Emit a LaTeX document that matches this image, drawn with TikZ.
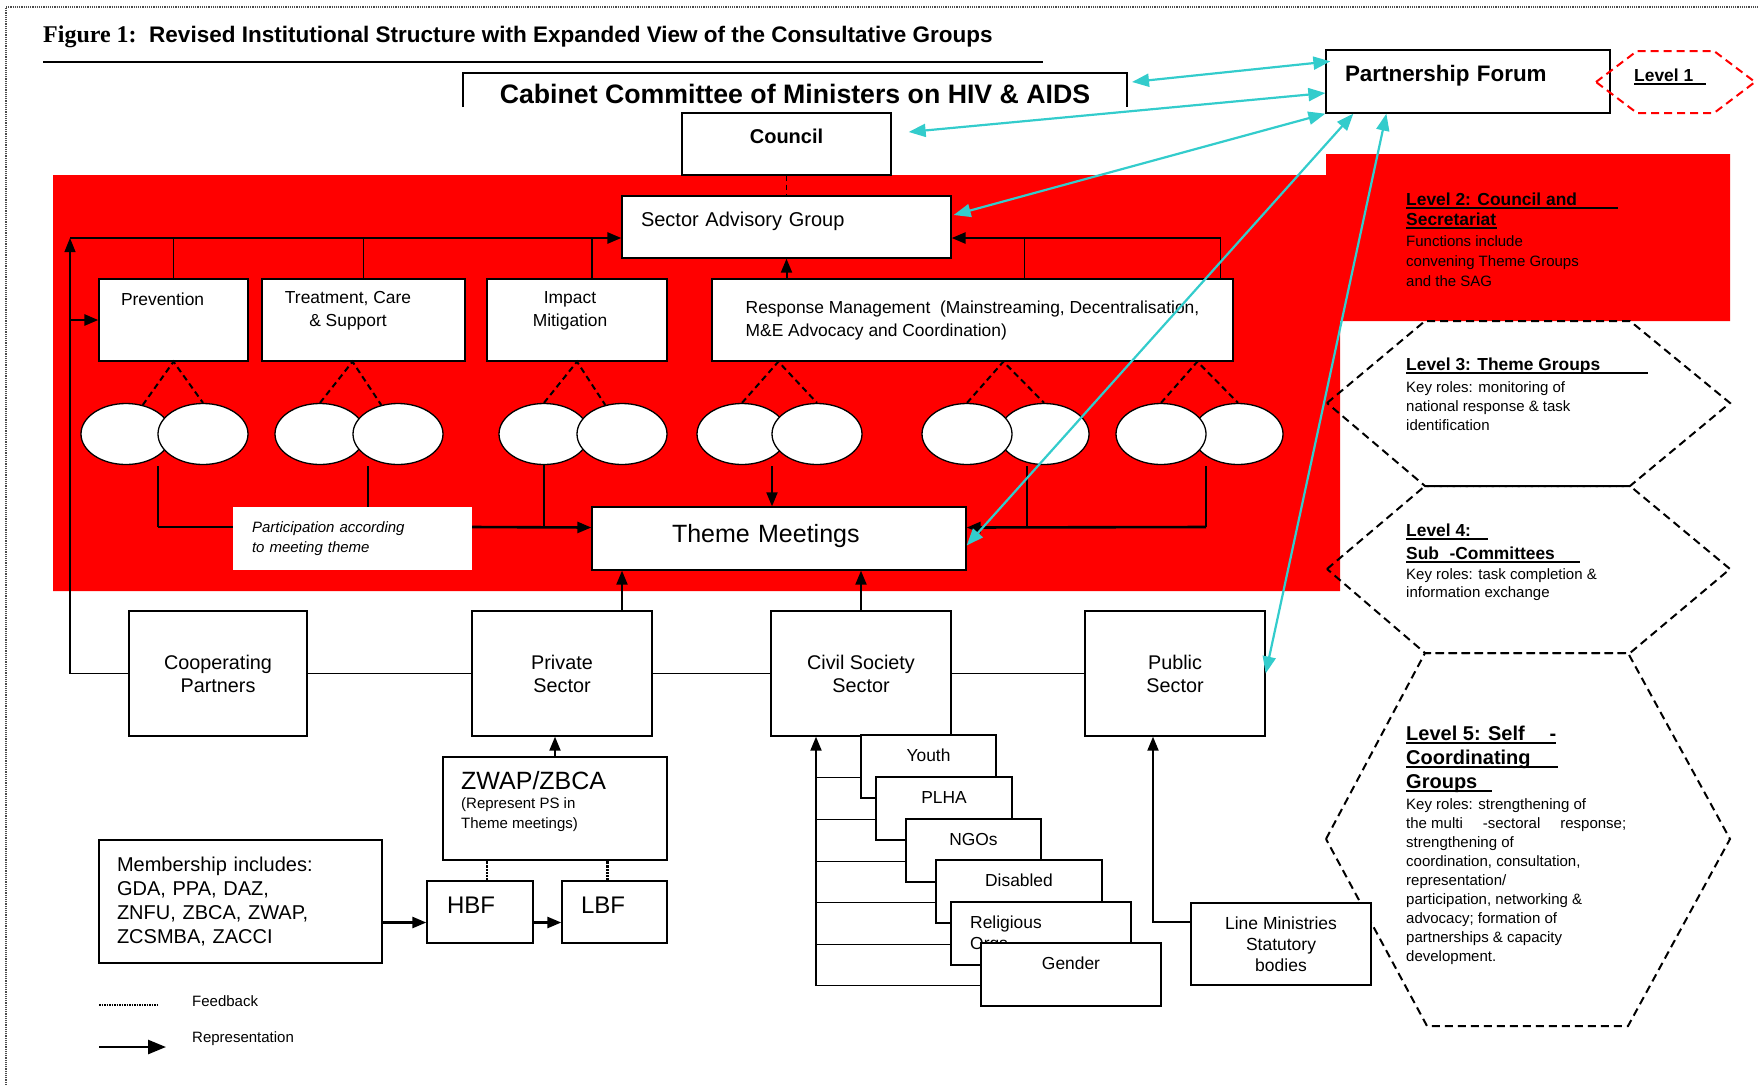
\documentclass[tikz,border=0pt]{standalone}
\usepackage{fontspec}
\setmainfont{Liberation Sans}
\newfontfamily\figserif{Liberation Serif}
\usetikzlibrary{positioning,calc,shapes.geometric,arrows.meta}

\definecolor{bandred}{RGB}{255,0,0}
\definecolor{linkcyan}{RGB}{51,204,204}

\newcommand{\setfs}[2]{\fontsize{#1}{#2}\selectfont}
\newcommand{\levelul}[2]{\makebox[#1][l]{#2}\llap{\rule[-3pt]{#1}{1.6pt}}}

\begin{document}
\begin{tikzpicture}[x=1pt, y=-1pt,
    >={Triangle[length=14pt,width=11pt]},
    box/.style={draw, fill=white, line width=1.3pt, inner sep=0pt},
    subbox/.style={box, minimum height=63pt, text height=13pt, text depth=23pt, font=\setfs{17.4}{21}},
    bubble/.style={ellipse, draw, fill=white, line width=1.3pt, minimum width=90pt, minimum height=61pt, inner sep=0pt},
    link/.style={line width=1.1pt},
    rep/.style={->, line width=2.6pt},
    uparrow/.style={->, line width=2pt},
    feedback/.style={densely dotted, line width=2.2pt},
    subtheme/.style={dash pattern=on 6pt off 4pt, line width=2pt},
    hexa/.style={dash pattern=on 8pt off 5pt, line width=2pt},
    forum/.style={<->, draw=linkcyan, line width=2.2pt, >={Triangle[length=17pt,width=13pt]}},
    leveltext/.style={anchor=north west, align=left, inner sep=0pt}
  ]
  \useasboundingbox (0,0) rectangle (1758,1085);

  % Red band (council and secretariat)
  \fill[bandred] (53,175) -- (1326,175) -- (1326,154) -- (1730,154) -- (1730,321)
    -- (1340,321) -- (1340,591) -- (53,591) -- cycle;

  % Page frame and title
  \draw[densely dotted, line width=1.2pt, black!70] (6,1085) -- (6,7) -- (1758,7);
  \node[anchor=west, inner sep=0pt, font=\setfs{22.5}{26}\bfseries] (title) at (43,37)
    {{\figserif\setfs{24}{26}Figure 1:}\ \ Revised Institutional Structure with Expanded View of the Consultative Groups};
  \draw[line width=2pt] (43,62) -- (1043,62);

  % Cabinet committee
  \draw[line width=1.5pt] (463,107) -- (463,73) -- (1127,73) -- (1127,107);
  \node[inner sep=0pt, font=\setfs{26.7}{30}\bfseries] (ccm) at (795,94)
    {Cabinet Committee of Ministers on HIV \& AIDS};
  \coordinate (ccmright) at (1132,82);

  % Level hexagons
  \draw[hexa] (1327,403) -- (1425,321) -- (1630,321) -- (1730,403) -- (1630,486) -- (1425,486) -- cycle;
  \draw[hexa] (1327,569) -- (1425,486) -- (1630,486) -- (1730,569) -- (1630,653) -- (1425,653) -- cycle;
  \draw[hexa] (1326,839) -- (1425,653) -- (1628,653) -- (1730,839) -- (1628,1026) -- (1427,1026) -- cycle;

  % Level texts
  \node[leveltext, font=\setfs{17.4}{20}\bfseries] (lvtwohead) at (1406,193)
    {\levelul{212pt}{Level 2: Council and}\\\levelul{91pt}{Secretariat}};
  \node[leveltext, font=\setfs{15}{20}] (lvtwobody) at (1406,235)
    {Functions include\\convening Theme Groups\\and the SAG};
  \node[leveltext, font=\setfs{17.4}{20}\bfseries] (lvthreehead) at (1406,358)
    {\levelul{242pt}{Level 3: Theme Groups}};
  \node[leveltext, font=\setfs{15}{19}] (lvthreebody) at (1406,381)
    {Key roles: monitoring of\\national response \& task\\identification};
  \node[leveltext, font=\setfs{17.4}{23}\bfseries] (lvfourhead) at (1406,524)
    {\levelul{82pt}{Level 4:}\\\levelul{174pt}{Sub\hspace{0.6em}-Committees}};
  \node[leveltext, font=\setfs{15}{18}] (lvfourbody) at (1406,568)
    {Key roles: task completion \&\\information exchange};
  \node[leveltext, font=\setfs{20}{24}\bfseries] (lvfivehead) at (1406,726)
    {\levelul{150pt}{Level 5: Self\hfill -}\\\levelul{152pt}{Coordinating}\\\levelul{86pt}{Groups}};
  \node[leveltext, font=\setfs{15}{19.1}] (lvfivebody) at (1406,798)
    {Key roles: strengthening of\\
     \makebox[220pt][l]{the multi\hfill-sectoral\hfill response;}\\
     strengthening of\\coordination, consultation,\\representation/\\
     participation, networking \&\\advocacy; formation of\\
     partnerships \& capacity\\development.};

  % Council, forum and advisory group
  \node[box, minimum width=209pt, minimum height=62pt, text height=15pt, text depth=17pt,
    font=\setfs{20}{24}\bfseries] (council) at (786.5,144) {Council};
  \node[box, minimum width=284pt, minimum height=63pt, text width=246pt, align=left, inner xsep=19pt,
    text height=17pt, text depth=18pt, font=\setfs{22.4}{26}\bfseries] (pf) at (1468,81.5) {Partnership Forum};
  \draw[hexa, red] (1596,82) -- (1637,51) -- (1714,51) -- (1755,82) -- (1714,113) -- (1637,113) -- cycle;
  \node[anchor=west, inner sep=0pt, font=\setfs{17.4}{21}\bfseries] (lvone) at (1634,77) {\levelul{72pt}{Level 1}};
  \node[box, minimum width=329pt, minimum height=62pt, text width=291pt, align=left, inner xsep=19pt,
    text height=15pt, text depth=17pt, font=\setfs{20}{24}] (sag) at (786.5,227) {Sector Advisory Group};

  % Theme group boxes
  \node[box, minimum width=149pt, minimum height=82pt, text width=105pt, align=left, inner xsep=22pt,
    text height=13pt, text depth=43pt, font=\setfs{17.4}{21}] (prev) at (173.5,320) {Prevention};
  \node[box, minimum width=203pt, minimum height=82pt] (tcs) at (363.5,320) {};
  \node[align=center, inner sep=0pt, font=\setfs{17.4}{23}] (tcstxt) at (348,310.5) {Treatment, Care\\\& Support};
  \node[box, minimum width=180pt, minimum height=82pt] (imp) at (577,320) {};
  \node[align=center, inner sep=0pt, font=\setfs{17.4}{23}] (imptxt) at (570,310.5) {Impact\\Mitigation};
  \node[box, minimum width=521pt, minimum height=82pt, align=left, font=\setfs{17.4}{23}] (resp) at (972.5,320)
    {Response Management\ \ (Mainstreaming, Decentralisation,\\M\&E Advocacy and Coordination)};

  % Sub-committee bubbles
  \node[bubble] (e1a) at (126,434) {};
  \node[bubble] (e1b) at (203,434) {};
  \node[bubble] (e2a) at (320,434) {};
  \node[bubble] (e2b) at (398,434) {};
  \node[bubble] (e3a) at (544,434) {};
  \node[bubble] (e3b) at (622,434) {};
  \node[bubble] (e4a) at (742,434) {};
  \node[bubble] (e4b) at (817,434) {};
  \node[bubble] (e5b) at (1044,434) {};
  \node[bubble] (e5a) at (967,434) {};
  \node[bubble] (e6b) at (1238,434) {};
  \node[bubble] (e6a) at (1161,434) {};

  \draw[subtheme] (e1a.60) -- (prev.south) -- (e1b.north);
  \draw[subtheme] (e2a.north) -- ($(tcs.south)+(-11,0)$) -- (e2b.120);
  \draw[subtheme] (e3a.north) -- (imp.south) -- (e3b.120);
  \draw[subtheme] (e4a.north) -- ($(resp.south west)+(67,0)$) -- (e4b.north);
  \draw[subtheme] (e5a.north) -- ($(resp.south west)+(292,0)$) -- (e5b.north);
  \draw[subtheme] (e6a.north) -- ($(resp.south west)+(486,0)$) -- (e6b.north);

  % Theme meetings
  \node[box, minimum width=374pt, minimum height=63pt, text width=214pt, align=left, inner xsep=80pt,
    text height=18pt, text depth=9.5pt, font=\setfs{25}{29}] (theme) at (779,538.5) {Theme Meetings};
  \node[fill=white, minimum width=239pt, minimum height=63pt, text width=201pt, inner xsep=19pt, inner ysep=0pt,
    align=left, font=\setfs{15}{20}\itshape] (part) at (352.5,538.5) {Participation according\\to meeting theme};

  % Sectors
  \node[box, minimum width=178pt, minimum height=125pt, align=center, font=\setfs{19.8}{23}] (coop) at (218,673.5) {Cooperating\\Partners};
  \node[box, minimum width=180pt, minimum height=125pt, align=center, font=\setfs{19.8}{23}] (priv) at (562,673.5) {Private\\Sector};
  \node[box, minimum width=180pt, minimum height=125pt, align=center, font=\setfs{19.8}{23}] (civ) at (861,673.5) {Civil Society\\Sector};
  \node[box, minimum width=180pt, minimum height=125pt, align=center, font=\setfs{19.8}{23}] (pub) at (1175,673.5) {Public\\Sector};

  % Private sector bodies
  \node[box, minimum width=224pt, minimum height=103pt] (zwap) at (555,808.5) {};
  \node[anchor=west, inner sep=0pt, font=\setfs{25}{29}] (zwaptxt) at (461,781) {ZWAP/ZBCA};
  \node[anchor=north west, align=left, inner sep=0pt, font=\setfs{15}{20}] (zwapnote) at (461,797)
    {(Represent PS in\\Theme meetings)};
  \node[box, minimum width=106pt, minimum height=62pt, text width=66pt, align=left, inner xsep=20pt,
    text height=18pt, text depth=15pt, font=\setfs{24}{28}] (hbf) at (480,912) {HBF};
  \node[box, minimum width=105pt, minimum height=62pt, text width=67pt, align=left, inner xsep=19pt,
    text height=18pt, text depth=15pt, font=\setfs{24}{28}] (lbf) at (614.5,912) {LBF};
  \node[box, minimum width=283pt, minimum height=123pt, text width=247pt, inner xsep=18pt, align=left,
    font=\setfs{20}{24.3}] (memb) at (240.5,901.5) {Membership includes:\\GDA, PPA, DAZ,\\ZNFU, ZBCA, ZWAP,\\ZCSMBA, ZACCI};

  % Civil society groups
  \node[subbox, minimum width=135pt] (youth) at (928.5,766.5) {Youth};
  \node[subbox, minimum width=136pt] (plha) at (944,808.5) {PLHA};
  \node[subbox, minimum width=135pt] (ngos) at (973.5,850.5) {NGOs};
  \node[subbox, minimum width=166pt] (disab) at (1019,891.5) {Disabled};
  \node[subbox, minimum width=180pt] (relig) at (1041,933.5) {};
  \node[anchor=north west, align=left, inner sep=0pt, font=\setfs{17.4}{21}] (religtxt) at (970,915.5) {Religious\\Orgs};
  \node[subbox, minimum width=180pt] (gender) at (1071,974.5) {Gender};

  \node[box, minimum width=180pt, minimum height=82pt, align=center, font=\setfs{17.5}{21}] (lm) at (1281,944)
    {Line Ministries\\Statutory\\bodies};

  % Legend
  \coordinate (fbstart) at (99,1005);
  \coordinate (fbend) at (157,1005);
  \draw[densely dotted, line width=1.5pt] (fbstart) -- (fbend);
  \node[anchor=west, inner sep=0pt, font=\setfs{15}{18}] (fbtxt) at (192,1001) {Feedback};
  \coordinate (repstart) at (99,1047);
  \coordinate (repend) at (166,1047);
  \draw[rep, >={Triangle[length=18pt,width=14pt]}] (repstart) -- (repend);
  \node[anchor=west, inner sep=0pt, font=\setfs{15}{18}] (reptxt) at (192,1039) {Representation};

  % Links up to the advisory group
  \coordinate (corner) at (70,238);
  \coordinate (sagleft) at ($(sag.west)+(0,11)$);
  \coordinate (sagright) at ($(sag.east)+(0,11)$);
  \coordinate (impup) at ($(imp.north)+(15,0)$);
  \coordinate (respmid) at ($(resp.north west)+(313,0)$);
  \coordinate (respup) at ($(resp.north east)+(-13,0)$);
  \draw[line width=1.6pt, dash pattern=on 5pt off 4pt] (council.south) -- (sag.north);
  \draw[uparrow] (resp.north -| sag.south) -- (sag.south);
  \draw[link, ->] (coop.west) -| (corner);
  \draw[link] (corner) -- (prev.north |- corner);
  \draw[rep] (prev.north |- corner) -- (sagleft);
  \draw[link] (prev.north) -- (prev.north |- corner);
  \draw[link] (tcs.north) -- (tcs.north |- corner);
  \draw[link] (impup) -- (impup |- corner);
  \draw[link] (respmid) -- (respmid |- sagright);
  \draw[link] (respup) -- (respup |- sagright);
  \draw[rep] (respup |- sagright) -- (sagright);
  \draw[rep] (corner |- prev.west) -- (prev.west);

  % Links into theme meetings
  \coordinate (themein) at ($(theme.west)+(0,-11)$);
  \coordinate (themeinr) at ($(theme.east)+(0,-11)$);
  \coordinate (lbend) at (158,527);
  \coordinate (rbend) at (1206,527);
  \coordinate (ptwo) at ($(e2b.south)+(-30,1)$);
  \coordinate (pfour) at ($(e4a.south)+(30,1)$);
  \coordinate (pfive) at ($(e5a.south)+(60,1)$);
  \draw[link] (158,466) -- (lbend);
  \draw[rep, -] (lbend) -- (lbend -| part.west);
  \draw[rep] (lbend -| part.east) -- (themein);
  \draw[link] (ptwo) -- (ptwo |- part.north);
  \draw[link] (e3a.south) -- (e3a.south |- themein);
  \draw[uparrow] (pfour) -- (pfour |- theme.north);
  \draw[link] (pfive) -- (pfive |- themeinr);
  \draw[link] (1206,466) -- (rbend);
  \draw[rep] (rbend) -- (themeinr);

  % Sector links
  \coordinate (privup) at ($(priv.north)+(60,0)$);
  \draw[link] (coop.east) -- (priv.west);
  \draw[link] (priv.east) -- (civ.west);
  \draw[link] (civ.east) -- (pub.west);
  \draw[uparrow] (privup) -- (privup |- theme.south);
  \draw[uparrow] (civ.north) -- (civ.north |- theme.south);
  \draw[uparrow] (zwap.north) -- (zwap.north |- priv.south);

  % Feedback and representation of business forums
  \coordinate (hbfup) at ($(hbf.north)+(7,0)$);
  \coordinate (lbfup) at ($(lbf.north)+(-7,0)$);
  \coordinate (membout) at ($(memb.east)+(0,21)$);
  \draw[feedback] (hbfup) -- (hbfup |- zwap.south);
  \draw[feedback] (lbfup) -- (lbfup |- zwap.south);
  \draw[rep] (membout) -- (membout -| hbf.west);
  \draw[rep] (membout -| hbf.east) -- (membout -| lbf.west);

  % Civil society trunk
  \coordinate (trunk) at ($(civ.south)+(-45,0)$);
  \foreach \grp in {youth,plha,ngos,disab,relig,gender}
    \coordinate (\grp-in) at ($(\grp.south west)+(0,-21)$);
  \foreach \grp in {youth,plha,ngos,disab,relig,gender}
    \draw[link] (trunk |- \grp-in) -- (\grp-in);
  \draw[link] (trunk |- gender-in) -- (trunk |- ngos-in);
  \draw[uparrow] (trunk |- ngos-in) -- (trunk);

  % Line ministries
  \coordinate (lmout) at ($(lm.west)+(0,-22)$);
  \coordinate (pubin) at ($(pub.south)+(-22,0)$);
  \draw[uparrow] (lmout) -| (pubin);

  % Partnership forum links
  \draw[forum] (ccmright) -- ($(pf.north west)+(5,12)$);
  \draw[forum] ($(council.east)+(17,-12)$) -- ($(pf.west)+(0,11.5)$);
  \draw[forum] ($(sag.east)+(2,-12)$) -- (pf.south west);
  \draw[forum] ($(theme.east)+(0,7)$) -- ($(pf.south west)+(28,0)$);
  \draw[forum] (pub.east) -- ($(pf.south west)+(61,0)$);
\end{tikzpicture}
\end{document}
